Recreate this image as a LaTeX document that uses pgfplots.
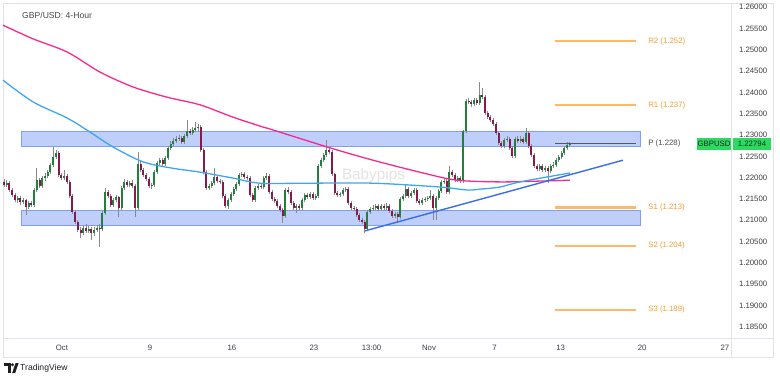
\documentclass[border=0pt]{standalone}
\usepackage{pgfplots}
\pgfplotsset{compat=1.18}
\usepackage{pgfplotstable}
\usepackage{fontspec}
\setmainfont{Liberation Sans}
\definecolor{upc}{HTML}{23803C}
\definecolor{dnc}{HTML}{871A4C}
\definecolor{wickc}{HTML}{8A8A8A}
\definecolor{pinkc}{HTML}{F7288E}
\definecolor{bluec}{HTML}{3EA6F0}
\definecolor{trendc}{HTML}{3A6DEB}
\definecolor{zonefill}{HTML}{C0CEFA}
\definecolor{zoneedge}{HTML}{7F9EF5}
\definecolor{pivotorange}{RGB}{255,184,100}
\definecolor{pivottext}{RGB}{243,155,50}
\definecolor{bordc}{HTML}{E0E3EB}
\definecolor{labc}{HTML}{3D3D3D}
\definecolor{boxg}{HTML}{2BDB5F}
\pgfplotstableread{
i o h l c
0 1.2190 1.2197 1.2178 1.2183
1 1.2183 1.2194 1.2179 1.2187
2 1.2187 1.2191 1.2166 1.2171
3 1.2171 1.2175 1.2154 1.2159
4 1.2159 1.2163 1.2142 1.2147
5 1.2147 1.2158 1.2141 1.2152
6 1.2152 1.2156 1.2136 1.2143
7 1.2143 1.2153 1.2138 1.2147
8 1.2147 1.2150 1.2112 1.2131
9 1.2131 1.2146 1.2126 1.2140
10 1.2140 1.2145 1.2130 1.2136
11 1.2136 1.2176 1.2131 1.2171
12 1.2171 1.2222 1.2166 1.2194
13 1.2194 1.2200 1.2175 1.2180
14 1.2180 1.2204 1.2176 1.2199
15 1.2199 1.2210 1.2193 1.2204
16 1.2204 1.2218 1.2199 1.2213
17 1.2213 1.2235 1.2208 1.2230
18 1.2230 1.2272 1.2225 1.2248
19 1.2248 1.2265 1.2243 1.2258
20 1.2258 1.2263 1.2201 1.2206
21 1.2206 1.2211 1.2194 1.2199
22 1.2199 1.2218 1.2195 1.2204
23 1.2204 1.2208 1.2185 1.2190
24 1.2190 1.2194 1.2152 1.2157
25 1.2157 1.2161 1.2114 1.2119
26 1.2119 1.2124 1.2090 1.2096
27 1.2096 1.2100 1.2072 1.2077
28 1.2077 1.2083 1.2058 1.2070
29 1.2070 1.2088 1.2065 1.2082
30 1.2082 1.2092 1.2070 1.2075
31 1.2075 1.2086 1.2069 1.2079
32 1.2079 1.2084 1.2053 1.2070
33 1.2070 1.2085 1.2064 1.2077
34 1.2077 1.2089 1.2072 1.2082
35 1.2082 1.2090 1.2037 1.2079
36 1.2079 1.2121 1.2074 1.2117
37 1.2117 1.2176 1.2112 1.2166
38 1.2166 1.2172 1.2152 1.2157
39 1.2157 1.2161 1.2131 1.2136
40 1.2136 1.2152 1.2131 1.2147
41 1.2147 1.2160 1.2142 1.2154
42 1.2154 1.2158 1.2108 1.2129
43 1.2129 1.2181 1.2124 1.2176
44 1.2176 1.2196 1.2171 1.2190
45 1.2190 1.2195 1.2178 1.2183
46 1.2183 1.2193 1.2178 1.2187
47 1.2187 1.2194 1.2175 1.2180
48 1.2180 1.2185 1.2108 1.2129
49 1.2129 1.2260 1.2124 1.2232
50 1.2232 1.2238 1.2213 1.2218
51 1.2218 1.2223 1.2201 1.2206
52 1.2206 1.2211 1.2192 1.2197
53 1.2197 1.2201 1.2175 1.2180
54 1.2180 1.2188 1.2174 1.2183
55 1.2183 1.2218 1.2178 1.2213
56 1.2213 1.2239 1.2208 1.2234
57 1.2234 1.2247 1.2229 1.2241
58 1.2241 1.2246 1.2226 1.2232
59 1.2232 1.2251 1.2227 1.2246
60 1.2246 1.2275 1.2241 1.2270
61 1.2270 1.2285 1.2265 1.2279
62 1.2279 1.2292 1.2274 1.2286
63 1.2286 1.2297 1.2281 1.2291
64 1.2291 1.2300 1.2286 1.2293
65 1.2293 1.2298 1.2279 1.2284
66 1.2284 1.2303 1.2279 1.2298
67 1.2298 1.2335 1.2293 1.2309
68 1.2309 1.2315 1.2300 1.2305
69 1.2305 1.2318 1.2300 1.2312
70 1.2312 1.2331 1.2307 1.2316
71 1.2316 1.2325 1.2310 1.2319
72 1.2319 1.2323 1.2260 1.2265
73 1.2265 1.2269 1.2208 1.2213
74 1.2213 1.2218 1.2170 1.2176
75 1.2176 1.2186 1.2170 1.2180
76 1.2180 1.2193 1.2175 1.2187
77 1.2187 1.2222 1.2182 1.2201
78 1.2201 1.2206 1.2187 1.2192
79 1.2192 1.2197 1.2185 1.2190
80 1.2190 1.2194 1.2152 1.2157
81 1.2157 1.2161 1.2128 1.2133
82 1.2133 1.2152 1.2127 1.2147
83 1.2147 1.2167 1.2142 1.2162
84 1.2162 1.2179 1.2157 1.2173
85 1.2173 1.2190 1.2168 1.2185
86 1.2185 1.2212 1.2180 1.2206
87 1.2206 1.2214 1.2201 1.2208
88 1.2208 1.2213 1.2196 1.2201
89 1.2201 1.2206 1.2194 1.2199
90 1.2199 1.2203 1.2154 1.2159
91 1.2159 1.2164 1.2142 1.2147
92 1.2147 1.2181 1.2142 1.2176
93 1.2176 1.2186 1.2171 1.2180
94 1.2180 1.2185 1.2173 1.2178
95 1.2178 1.2205 1.2173 1.2199
96 1.2199 1.2210 1.2194 1.2204
97 1.2204 1.2209 1.2161 1.2166
98 1.2166 1.2170 1.2145 1.2150
99 1.2150 1.2155 1.2140 1.2145
100 1.2145 1.2150 1.2128 1.2133
101 1.2133 1.2138 1.2119 1.2124
102 1.2124 1.2129 1.2094 1.2110
103 1.2110 1.2176 1.2105 1.2171
104 1.2171 1.2177 1.2161 1.2166
105 1.2166 1.2170 1.2135 1.2140
106 1.2140 1.2145 1.2124 1.2129
107 1.2129 1.2139 1.2117 1.2133
108 1.2133 1.2138 1.2124 1.2129
109 1.2129 1.2152 1.2124 1.2147
110 1.2147 1.2164 1.2142 1.2159
111 1.2159 1.2165 1.2149 1.2154
112 1.2154 1.2167 1.2149 1.2162
113 1.2162 1.2166 1.2147 1.2152
114 1.2152 1.2162 1.2147 1.2157
115 1.2157 1.2232 1.2152 1.2227
116 1.2227 1.2246 1.2222 1.2241
117 1.2241 1.2258 1.2236 1.2253
118 1.2253 1.2288 1.2248 1.2265
119 1.2265 1.2272 1.2255 1.2260
120 1.2260 1.2265 1.2203 1.2208
121 1.2208 1.2212 1.2159 1.2164
122 1.2164 1.2169 1.2154 1.2159
123 1.2159 1.2167 1.2154 1.2162
124 1.2162 1.2176 1.2157 1.2171
125 1.2171 1.2179 1.2166 1.2173
126 1.2173 1.2178 1.2135 1.2140
127 1.2140 1.2145 1.2124 1.2129
128 1.2129 1.2134 1.2121 1.2126
129 1.2126 1.2130 1.2107 1.2112
130 1.2112 1.2116 1.2096 1.2101
131 1.2101 1.2106 1.2091 1.2096
132 1.2096 1.2100 1.2070 1.2079
133 1.2079 1.2124 1.2074 1.2119
134 1.2119 1.2132 1.2114 1.2126
135 1.2126 1.2135 1.2121 1.2129
136 1.2129 1.2139 1.2124 1.2133
137 1.2133 1.2138 1.2121 1.2126
138 1.2126 1.2139 1.2121 1.2133
139 1.2133 1.2138 1.2124 1.2129
140 1.2129 1.2140 1.2124 1.2133
141 1.2133 1.2138 1.2117 1.2122
142 1.2122 1.2127 1.2105 1.2110
143 1.2110 1.2120 1.2105 1.2115
144 1.2115 1.2120 1.2094 1.2108
145 1.2108 1.2155 1.2103 1.2150
146 1.2150 1.2162 1.2145 1.2157
147 1.2157 1.2183 1.2152 1.2173
148 1.2173 1.2178 1.2152 1.2157
149 1.2157 1.2169 1.2152 1.2164
150 1.2164 1.2176 1.2159 1.2171
151 1.2171 1.2175 1.2140 1.2145
152 1.2145 1.2150 1.2135 1.2140
153 1.2140 1.2152 1.2135 1.2147
154 1.2147 1.2155 1.2142 1.2150
155 1.2150 1.2157 1.2145 1.2152
156 1.2152 1.2171 1.2147 1.2157
157 1.2157 1.2161 1.2101 1.2129
158 1.2129 1.2157 1.2101 1.2152
159 1.2152 1.2174 1.2147 1.2169
160 1.2169 1.2195 1.2164 1.2190
161 1.2190 1.2197 1.2185 1.2192
162 1.2192 1.2196 1.2161 1.2166
163 1.2166 1.2227 1.2161 1.2213
164 1.2213 1.2218 1.2201 1.2206
165 1.2206 1.2210 1.2189 1.2194
166 1.2194 1.2204 1.2189 1.2199
167 1.2199 1.2204 1.2187 1.2192
168 1.2192 1.2313 1.2187 1.2309
169 1.2309 1.2385 1.2304 1.2380
170 1.2380 1.2386 1.2372 1.2378
171 1.2378 1.2383 1.2367 1.2373
172 1.2373 1.2388 1.2368 1.2382
173 1.2382 1.2387 1.2370 1.2375
174 1.2375 1.2425 1.2370 1.2394
175 1.2394 1.2410 1.2384 1.2389
176 1.2389 1.2394 1.2347 1.2352
177 1.2352 1.2357 1.2337 1.2342
178 1.2342 1.2347 1.2330 1.2335
179 1.2335 1.2340 1.2321 1.2326
180 1.2326 1.2330 1.2300 1.2305
181 1.2305 1.2309 1.2276 1.2281
182 1.2281 1.2286 1.2269 1.2274
183 1.2274 1.2293 1.2269 1.2288
184 1.2288 1.2297 1.2283 1.2291
185 1.2291 1.2296 1.2265 1.2270
186 1.2270 1.2275 1.2246 1.2251
187 1.2251 1.2296 1.2246 1.2291
188 1.2291 1.2297 1.2281 1.2286
189 1.2286 1.2297 1.2281 1.2291
190 1.2291 1.2296 1.2279 1.2284
191 1.2284 1.2316 1.2279 1.2305
192 1.2305 1.2310 1.2269 1.2274
193 1.2274 1.2279 1.2248 1.2253
194 1.2253 1.2258 1.2222 1.2227
195 1.2227 1.2232 1.2215 1.2220
196 1.2220 1.2233 1.2215 1.2227
197 1.2227 1.2232 1.2213 1.2218
198 1.2218 1.2228 1.2213 1.2222
199 1.2222 1.2227 1.2187 1.2215
200 1.2215 1.2232 1.2210 1.2227
201 1.2227 1.2236 1.2222 1.2230
202 1.2230 1.2246 1.2225 1.2241
203 1.2241 1.2254 1.2236 1.2248
204 1.2248 1.2263 1.2243 1.2258
205 1.2258 1.2275 1.2253 1.2270
206 1.2270 1.2283 1.2265 1.2277
207 1.2277 1.2284 1.2272 1.2279
}\candles
\begin{document}
\begin{tikzpicture}[x=1pt,y=1pt]
\path (0,0) rectangle (780,381);
\draw[bordc,line width=0.8pt] (3,24) rectangle (773,378);
\draw[bordc,line width=0.8pt] (731.5,24) -- (731.5,378);
\draw[bordc,line width=0.8pt] (3,43) -- (773,43);
\begin{axis}[
  at={(3pt,43pt)}, anchor=south west, scale only axis,
  width=728.5pt, height=335pt,
  xmin=-0.366, xmax=266.2, ymin=1.18235, ymax=1.26101,
  axis line style={draw=bordc, line width=0.8pt},
  major tick length=0pt, tick style={draw=none},
  ytick={1.185,1.19,1.195,1.2,1.205,1.21,1.215,1.22,1.225,1.23,1.235,1.24,1.245,1.25,1.255,1.26},
  yticklabel pos=right,
  yticklabel style={font=\fontsize{7.8}{9}\selectfont, text=labc, xshift=4pt,
    /pgf/number format/.cd, fixed, fixed zerofill, precision=5, assume math mode=true},
  scaled y ticks=false,
  xtick={21.2,53.4,83.4,113.4,134.5,155.5,179.5,203.7,233.5,263.8},
  xticklabels={Oct,9,16,23,13:00,Nov,7,13,20,27},
  xticklabel style={font=\fontsize{7.8}{9}\selectfont, text=labc, yshift=-4pt},
]
% watermark
\node[text=black!11, font=\fontsize{15.3}{17}\selectfont] at (axis cs:135.2,1.2206) {Babypips};
% zones
\fill[zonefill] (axis cs:6.2,1.2273) rectangle (axis cs:232.7,1.2309);
\draw[zoneedge, line width=0.8pt] (axis cs:6.2,1.2273) rectangle (axis cs:232.7,1.2309);
\fill[zonefill] (axis cs:6.2,1.2089) rectangle (axis cs:232.7,1.2124);
\draw[zoneedge, line width=0.8pt] (axis cs:6.2,1.2089) rectangle (axis cs:232.7,1.2124);
% wicks
\addplot[wickc, line width=0.6pt, quiver={u=0, v=\thisrow{h}-\thisrow{l}}] table[x=i, y=l] {\candles};
% bodies up
\addplot[upc, line width=2pt, quiver={u=0, v=\thisrow{c}-\thisrow{o}},
  restrict expr to domain={\thisrow{c}-\thisrow{o}}{0:1}] table[x=i, y=o] {\candles};
% bodies down
\addplot[dnc, line width=2pt, quiver={u=0, v=\thisrow{c}-\thisrow{o}},
  restrict expr to domain={\thisrow{c}-\thisrow{o}}{-1:-0.00001}] table[x=i, y=o] {\candles};
% 200 MA
\addplot[pinkc, line width=1.3pt, smooth] coordinates {
(-0.4,1.2558) (10.6,1.2526) (23.1,1.2495) (35.1,1.2448) (47.2,1.2413) (59.6,1.2389)
(71.7,1.2371) (83.8,1.2342) (93.7,1.2321) (98.4,1.2312) (119.3,1.2270) (135.0,1.2241)
(153.3,1.2211) (165.8,1.2194) (181.5,1.2190) (196.1,1.2192) (207.1,1.2194)};
% 100 MA
\addplot[bluec, line width=1.3pt, smooth] coordinates {
(-0.4,1.2429) (10.6,1.2378) (23.1,1.2340) (31.5,1.2307) (39.9,1.2272) (50.9,1.2237)
(61.8,1.2222) (71.7,1.2213) (83.8,1.2199) (93.7,1.2187) (110.9,1.2187) (135.0,1.2187)
(159.5,1.2178) (169.4,1.2171) (174.2,1.2173) (181.5,1.2178) (188.8,1.2190) (207.1,1.2211)};
% trend line
\addplot[trendc, line width=1.4pt] coordinates {(132.1,1.2075) (226.5,1.2241)};
% pivots as thin filled bands
\addplot[fill=pivotorange, draw=none] coordinates {(201.6,1.25175) (231.2,1.25175) (231.2,1.25225) (201.6,1.25225)};
\addplot[fill=pivotorange, draw=none] coordinates {(201.6,1.23680) (231.2,1.23680) (231.2,1.23720) (201.6,1.23720)};
\addplot[fill=black!65, draw=none] coordinates {(201.6,1.22785) (231.2,1.22785) (231.2,1.22815) (201.6,1.22815)};
\addplot[fill=pivotorange, draw=none] coordinates {(201.6,1.21275) (231.2,1.21275) (231.2,1.21325) (201.6,1.21325)};
\addplot[fill=pivotorange, draw=none] coordinates {(201.6,1.20380) (231.2,1.20380) (231.2,1.20420) (201.6,1.20420)};
\addplot[fill=pivotorange, draw=none] coordinates {(201.6,1.18880) (231.2,1.18880) (231.2,1.18920) (201.6,1.18920)};
\begin{scope}[font=\fontsize{7.8}{9}\selectfont]
\node[anchor=west, inner sep=0pt, text=pivottext] at (axis cs:235.7,1.252) {R2 (1.252)};
\node[anchor=west, inner sep=0pt, text=pivottext] at (axis cs:235.7,1.237) {R1 (1.237)};
\node[anchor=west, inner sep=0pt, text=black!70] at (axis cs:235.7,1.228) {P (1.228)};
\node[anchor=west, inner sep=0pt, text=pivottext] at (axis cs:235.7,1.213) {S1 (1.213)};
\node[anchor=west, inner sep=0pt, text=pivottext] at (axis cs:235.7,1.204) {S2 (1.204)};
\node[anchor=west, inner sep=0pt, text=pivottext] at (axis cs:235.7,1.189) {S3 (1.189)};
\end{scope}
\end{axis}
% title
\node[anchor=west, inner sep=0pt, text=black!72, font=\fontsize{8.6}{10}\selectfont] at (22,366) {GBP/USD: 4-Hour};
% current price boxes
\fill[boxg] (697,231) rectangle (731,243);
\fill[boxg] (733,231) rectangle (771,243);
\node[font=\fontsize{7.8}{9}\selectfont, text=black!85, inner sep=0pt] at (714,237) {GBPUSD};
\node[font=\fontsize{7.8}{9}\selectfont, text=black!85, inner sep=0pt] at (752,237) {1.22794};
% TradingView logo
\fill[black!88] (4,15.5) rectangle (10.5,18);
\fill[black!88] (7.5,8) rectangle (10.5,18);
\fill[black!88] (12.5,16.2) circle (1.6);
\fill[black!88] (12.2,8) -- (15.6,18) -- (18.6,18) -- (15.2,8) -- cycle;
\node[anchor=west, inner sep=0pt, text=black!88, font=\fontsize{8.6}{10}\selectfont] at (20,13) {TradingView};
\end{tikzpicture}
\end{document}
